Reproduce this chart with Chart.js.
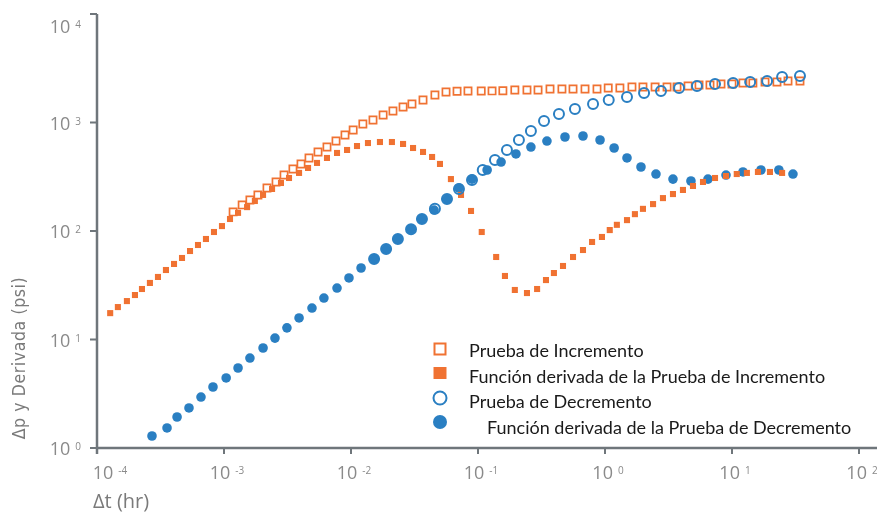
<!DOCTYPE html>
<html>
<head>
<meta charset="utf-8">
<script src="https://cdn.jsdelivr.net/npm/chart.js@4.4.1/dist/chart.umd.min.js"></script>
<style>
html, body { margin: 0; padding: 0; background: #fff; }
</style>
</head>
<body>
<canvas id="grafico" width="877" height="513"></canvas>
<script>
// Prueba de Incremento (Δt en hr, Δp en psi)
const incT = [1.18e-3, 1.39e-3, 1.60e-3, 1.85e-3, 2.18e-3, 2.57e-3, 2.97e-3, 3.49e-3, 4.04e-3, 4.67e-3, 5.50e-3, 6.47e-3, 7.62e-3, 8.97e-3, 1.04e-2, 1.24e-2, 1.49e-2, 1.79e-2, 2.14e-2, 2.57e-2, 3.02e-2, 3.69e-2, 4.58e-2, 5.60e-2, 6.84e-2, 8.34e-2, 0.106, 0.129, 0.157, 0.195, 0.243, 0.297, 0.369, 0.458, 0.560, 0.696, 0.865, 1.06, 1.31, 1.63, 1.99, 2.48, 3.08, 3.69, 4.51, 5.50, 6.71, 8.19, 10.0, 12.2, 14.6, 18.2, 22.6, 27.6, 34.3];
const incP = [150, 174, 193, 215, 249, 283, 328, 373, 415, 471, 535, 594, 675, 767, 853, 968, 1054, 1172, 1276, 1390, 1483, 1611, 1791, 1910, 1940, 1950, 1950, 1955, 1960, 1995, 1995, 1995, 2037, 2037, 2037, 2037, 2037, 2080, 2080, 2125, 2125, 2125, 2125, 2125, 2170, 2218, 2218, 2265, 2265, 2312, 2312, 2361, 2361, 2410, 2410];

// Función derivada de la Prueba de Incremento
const incDerT = [1.27e-4, 1.46e-4, 1.72e-4, 1.99e-4, 2.26e-4, 2.61e-4, 3.02e-4, 3.49e-4, 4.04e-4, 4.67e-4, 5.40e-4, 6.24e-4, 7.21e-4, 8.34e-4, 9.64e-4, 1.115e-3, 1.29e-3, 1.52e-3, 1.75e-3, 2.03e-3, 2.39e-3, 2.81e-3, 3.25e-3, 3.90e-3, 4.59e-3, 5.40e-3, 6.47e-3, 7.76e-3, 9.31e-3, 1.115e-2, 1.36e-2, 1.69e-2, 2.10e-2, 2.57e-2, 3.08e-2, 3.69e-2, 4.35e-2, 5.02e-2, 6.12e-2, 7.35e-2, 8.81e-2, 0.107, 0.139, 0.163, 0.195, 0.243, 0.292, 0.343, 0.396, 0.467, 0.560, 0.671, 0.791, 0.946, 1.09, 1.24, 1.49, 1.72, 1.99, 2.39, 2.86, 3.43, 4.11, 4.93, 5.91, 7.35, 8.97, 10.9, 13.1, 16.0, 19.9, 24.8];
const incDerP = [17.5, 19.9, 22.6, 25.7, 29.2, 33.2, 37.7, 43.7, 49.7, 56.4, 65.4, 74.3, 84.4, 97.9, 111, 129, 147, 166, 189, 215, 244, 277, 308, 343, 381, 424, 471, 524, 558, 607, 647, 661, 661, 634, 582, 535, 481, 415, 301, 215, 153, 97.9, 57.6, 38.5, 28.6, 26.8, 29.2, 35.3, 41.0, 47.6, 57.6, 66.8, 79.2, 88.1, 102, 114, 126, 143, 160, 177, 201, 219, 239, 260, 283, 308, 321, 335, 343, 350, 350, 343];

// Prueba de Decremento
const decT = [1.52e-2, 1.89e-2, 2.34e-2, 2.97e-2, 3.62e-2, 4.58e-2, 5.70e-2, 7.08e-2, 8.97e-2, 0.109, 0.136, 0.169, 0.210, 0.261, 0.331, 0.434, 0.580, 0.805, 1.07, 1.49, 2.03, 2.76, 3.83, 5.30, 7.35, 10.2, 13.9, 18.9, 24.8, 34.3];
const decP = [55.2, 68.2, 84.4, 104, 129, 160, 197, 244, 295, 365, 451, 558, 690, 835, 1032, 1197, 1331, 1483, 1611, 1718, 1871, 1950, 2080, 2170, 2265, 2312, 2361, 2410, 2626, 2683];

// Función derivada de la Prueba de Decremento
const decDerT = [2.71e-4, 3.56e-4, 4.27e-4, 5.30e-4, 6.59e-4, 8.19e-4, 1.04e-3, 1.29e-3, 1.60e-3, 2.03e-3, 2.52e-3, 3.13e-3, 3.90e-3, 4.93e-3, 6.12e-3, 7.76e-3, 9.64e-3, 1.20e-2, 1.52e-2, 1.89e-2, 2.34e-2, 2.97e-2, 3.62e-2, 4.51e-2, 5.70e-2, 7.08e-2, 8.97e-2, 0.118, 0.152, 0.199, 0.261, 0.349, 0.484, 0.671, 0.914, 1.18, 1.49, 1.92, 2.52, 3.43, 4.75, 6.47, 8.97, 12.2, 16.9, 23.4, 30.2];
const decDerP = [1.29, 1.53, 1.93, 2.34, 2.95, 3.65, 4.42, 5.46, 6.75, 8.35, 10.3, 12.8, 15.8, 19.5, 24.1, 29.8, 36.9, 45.6, 55.2, 68.2, 84.4, 104, 129, 156, 197, 249, 301, 365, 432, 513, 594, 675, 735, 751, 690, 582, 471, 389, 335, 301, 289, 301, 328, 350, 365, 365, 335];

// exponentes de las marcas de los ejes
const xExps = [-4, -3, -2, -1, 0, 1, 2];
const yExps = [0, 1, 2, 3, 4];

const NARANJA = '#f07232';
const AZUL = '#2a7fc2';
const EJE = '#6f767b';
const GRIS = '#8a8a8a';

function pares(xs, ys) {
    return xs.map((x, i) => ({ x: x, y: ys[i] }));
}

// potencia de 10 con el exponente pequeño arriba
function dibujarPotencia(ctx, exp, x, y, modo) {
    ctx.font = '18px "Open Sans"';
    const w1 = ctx.measureText('10').width;
    ctx.font = '10px "Open Sans"';
    const txtExp = String(exp);
    const w2 = ctx.measureText(txtExp).width;
    const gap = 5;
    const total = w1 + gap + w2;
    let left = modo === 'derecha' ? x - total : x - total / 2;
    ctx.textAlign = 'left';
    ctx.textBaseline = 'alphabetic';
    ctx.fillStyle = GRIS;
    ctx.font = '18px "Open Sans"';
    ctx.fillText('10', left, y);
    ctx.font = '10px "Open Sans"';
    ctx.fillText(txtExp, left + w1 + gap, y - 5);
}

const ejesPlugin = {
    id: 'ejes',
    afterDraw(chart) {
        const ctx = chart.ctx;
        const area = chart.chartArea;
        const sx = chart.scales.x;
        const sy = chart.scales.y;
        ctx.save();

        // líneas de los ejes
        ctx.strokeStyle = EJE;
        ctx.lineWidth = 2.5;
        ctx.beginPath();
        ctx.moveTo(area.left, area.top);
        ctx.lineTo(area.left, area.bottom + 6);
        ctx.moveTo(area.left, area.bottom);
        ctx.lineTo(chart.width, area.bottom);
        ctx.stroke();

        // marcas
        ctx.lineWidth = 2;
        ctx.beginPath();
        yExps.forEach(e => {
            const py = sy.getPixelForValue(Math.pow(10, e));
            ctx.moveTo(area.left - 7, py);
            ctx.lineTo(area.left, py);
        });
        xExps.forEach(e => {
            const px = sx.getPixelForValue(Math.pow(10, e));
            ctx.moveTo(px, area.bottom);
            ctx.lineTo(px, area.bottom + 6);
        });
        ctx.stroke();

        // etiquetas
        yExps.forEach(e => {
            const py = sy.getPixelForValue(Math.pow(10, e));
            dibujarPotencia(ctx, e, area.left - 16, Math.max(py + 7, area.top + 19), 'derecha');
        });
        xExps.forEach((e, i) => {
            const px = sx.getPixelForValue(Math.pow(10, e));
            dibujarPotencia(ctx, e, px + (i === 0 ? 13 : 3), area.bottom + 31, 'centro');
        });

        // títulos
        ctx.fillStyle = '#7a7a7a';
        ctx.font = '20px "Open Sans"';
        ctx.textAlign = 'left';
        ctx.fillText('\u0394t (hr)', 93, 508);

        ctx.save();
        ctx.translate(20, 358);
        ctx.rotate(-Math.PI / 2);
        ctx.font = '17.5px "DejaVu Sans Condensed", "Liberation Sans Narrow", "DejaVu Sans"';
        ctx.letterSpacing = '0.6px';
        ctx.textAlign = 'center';
        ctx.textBaseline = 'middle';
        ctx.fillText('\u0394p y Derivada (psi)', 0, 0);
        ctx.restore();

        // leyenda
        const filas = [
            { y: 349, xt: 469, forma: 'rect', relleno: false, color: NARANJA },
            { y: 373, xt: 469, forma: 'rect', relleno: true, color: NARANJA },
            { y: 398, xt: 469, forma: 'circle', relleno: false, color: AZUL },
            { y: 422, xt: 487, forma: 'circle', relleno: true, color: AZUL }
        ];
        const textosY = [351, 377, 402, 428];
        chart.data.datasets.forEach((ds, i) => {
            const f = filas[i];
            const cx = 440;
            ctx.beginPath();
            if (f.forma === 'rect') {
                if (f.relleno) ctx.rect(cx - 6.5, f.y - 6, 13, 12);
                else ctx.rect(cx - 5.5, f.y - 5.5, 11, 11);
            } else {
                ctx.arc(cx, f.y, f.relleno ? 7 : 6.5, 0, Math.PI * 2);
            }
            if (f.relleno) {
                ctx.fillStyle = f.color;
                ctx.fill();
            } else {
                ctx.strokeStyle = f.color;
                ctx.lineWidth = 2;
                ctx.stroke();
            }
            ctx.fillStyle = '#1a1a1a';
            ctx.font = '18px Lato';
            ctx.textAlign = 'left';
            ctx.textBaseline = 'middle';
            ctx.fillText(ds.label, f.xt, textosY[i]);
        });

        ctx.restore();
    }
};

const ctx = document.getElementById('grafico').getContext('2d');
new Chart(ctx, {
    type: 'scatter',
    data: {
        datasets: [
            {
                label: 'Prueba de Incremento',
                data: pares(incT, incP),
                pointStyle: 'rect',
                pointRadius: 5.1,
                borderWidth: 1.7,
                borderColor: NARANJA,
                backgroundColor: 'rgba(0,0,0,0)',
                order: 2
            },
            {
                label: 'Función derivada de la Prueba de Incremento',
                data: pares(incDerT, incDerP),
                pointStyle: 'rect',
                pointRadius: 4.3,
                borderWidth: 0,
                backgroundColor: NARANJA,
                order: 1
            },
            {
                label: 'Prueba de Decremento',
                data: pares(decT, decP),
                pointStyle: 'circle',
                pointRadius: 5,
                borderWidth: 2,
                borderColor: AZUL,
                backgroundColor: 'rgba(0,0,0,0)',
                order: 0
            },
            {
                label: 'Función derivada de la Prueba de Decremento',
                data: pares(decDerT, decDerP),
                pointStyle: 'circle',
                pointRadius: 4.8,
                borderWidth: 0,
                backgroundColor: AZUL,
                order: 3
            }
        ]
    },
    options: {
        responsive: false,
        animation: false,
        events: [],
        layout: { padding: { left: 97, right: 18, top: 14, bottom: 65 } },
        plugins: {
            legend: { display: false },
            tooltip: { enabled: false }
        },
        scales: {
            x: {
                type: 'logarithmic',
                min: 1e-4,
                max: 1e2,
                grid: { display: false },
                border: { display: false },
                ticks: { display: false },
                afterFit(s) { s.height = 0; }
            },
            y: {
                type: 'logarithmic',
                min: 1,
                max: 1e4,
                grid: { display: false },
                border: { display: false },
                ticks: { display: false },
                afterFit(s) { s.width = 0; }
            }
        }
    },
    plugins: [ejesPlugin]
});
</script>
</body>
</html>
